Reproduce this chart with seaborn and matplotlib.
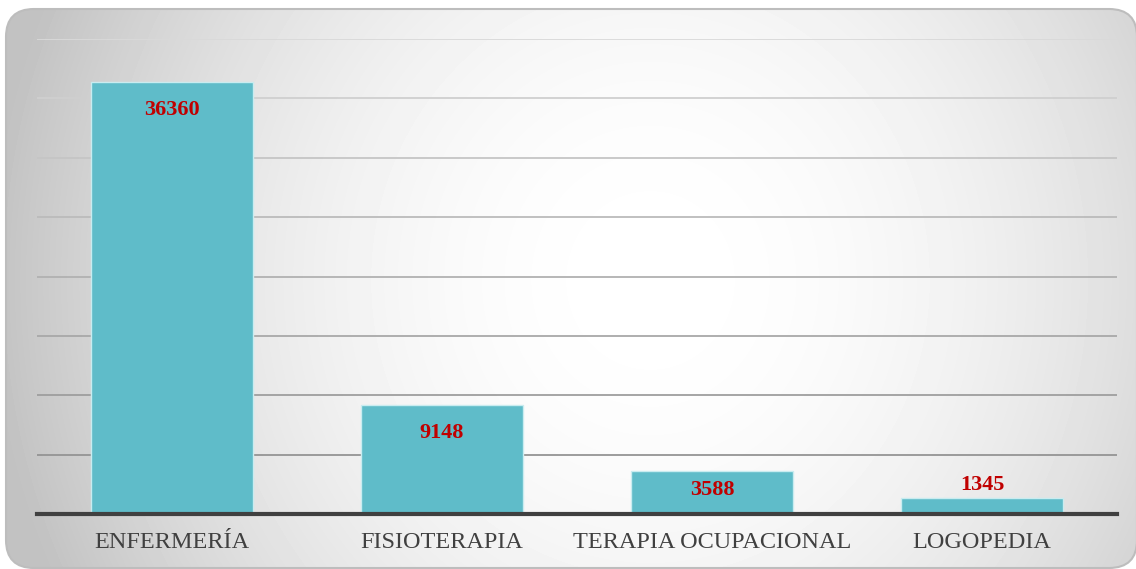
import matplotlib
matplotlib.use("Agg")
import matplotlib.pyplot as plt
from matplotlib.patches import FancyBboxPatch
import numpy as np
import pandas as pd
import seaborn as sns

sns.set_theme(style="white")
plt.rcParams['font.family'] = ['Liberation Serif', 'DejaVu Serif']

# datos
categorias = ['ENFERMERÍA', 'FISIOTERAPIA', 'TERAPIA OCUPACIONAL', 'LOGOPEDIA']
valores = [36360, 9148, 3588, 1345]
y_max = 40000
y_paso = 5000

df = pd.DataFrame({'Titulación': categorias, 'Total': valores})

W, H = 1136, 569
fig = plt.figure(figsize=(W / 100, H / 100), dpi=100)
fig.patch.set_facecolor('white')

# fondo con degradado radial y esquinas redondeadas
bg = fig.add_axes([0, 0, 1, 1])
bg.set_xlim(0, W)
bg.set_ylim(H, 0)
bg.axis('off')
X, Y = np.meshgrid(np.arange(W), np.arange(H))
r = np.sqrt(((X - 650) / 660.0) ** 2 + ((Y - 280) / 700.0) ** 2)
grad = 1 - 0.24 * np.clip(r, 0, 1.0) ** 2
im = bg.imshow(grad, cmap='gray', vmin=0, vmax=1, extent=(0, W, H, 0),
               interpolation='bilinear', aspect='auto')
caja = FancyBboxPatch((6, 9), 1131, 559, boxstyle="round,pad=0,rounding_size=28",
                      facecolor='none', edgecolor='#bdbdbd', linewidth=1.5,
                      transform=bg.transData)
bg.add_patch(caja)
im.set_clip_path(caja)

# gráfico principal
ax = fig.add_axes([37 / W, (H - 514) / H, 1080 / W, (514 - 39) / H])
ax.set_facecolor('none')
ax.set_axisbelow(True)

# líneas de cuadrícula, más claras arriba
niveles = np.arange(y_paso, y_max + 1, y_paso)
for nivel in niveles:
    t = (nivel - y_paso) / (y_max - y_paso)
    gris = 0.58 + t * (0.85 - 0.58)
    ax.axhline(nivel, color=(gris, gris, gris), linewidth=1.3, zorder=0)

sns.barplot(data=df, x='Titulación', y='Total', color='#5fbcc9', width=0.6,
            edgecolor='#c9ecf0', linewidth=1, saturation=1, ax=ax, zorder=2)

ax.set_ylim(0, y_max)
ax.set_xlim(-0.5, len(categorias) - 0.5)
ax.set_yticks([])
ax.grid(False)
ax.set_xlabel('')
ax.set_ylabel('')
for lado in ['left', 'right', 'top']:
    ax.spines[lado].set_visible(False)
ax.spines['bottom'].set_color('#404040')
ax.spines['bottom'].set_linewidth(3)
ax.spines['bottom'].set_zorder(3)
ax.tick_params(axis='x', length=0, pad=13, labelsize=17.5, labelcolor='#404040')

# etiquetas de datos
alto_px = 475
for i, v in enumerate(valores):
    h = v / y_max * alto_px
    if h >= 60:
        ax.annotate(f'{v}', (i, v), xytext=(0, -12.5), textcoords='offset points',
                    ha='center', va='top', fontsize=16, fontweight='bold', color='#c00000')
    elif h >= 25:
        ax.annotate(f'{v}', (i, v), xytext=(0, -6.5), textcoords='offset points',
                    ha='center', va='top', fontsize=16, fontweight='bold', color='#c00000')
    else:
        ax.annotate(f'{v}', (i, v), xytext=(0, 2), textcoords='offset points',
                    ha='center', va='bottom', fontsize=16, fontweight='bold', color='#c00000')

fig.savefig('out.png', dpi=100)
